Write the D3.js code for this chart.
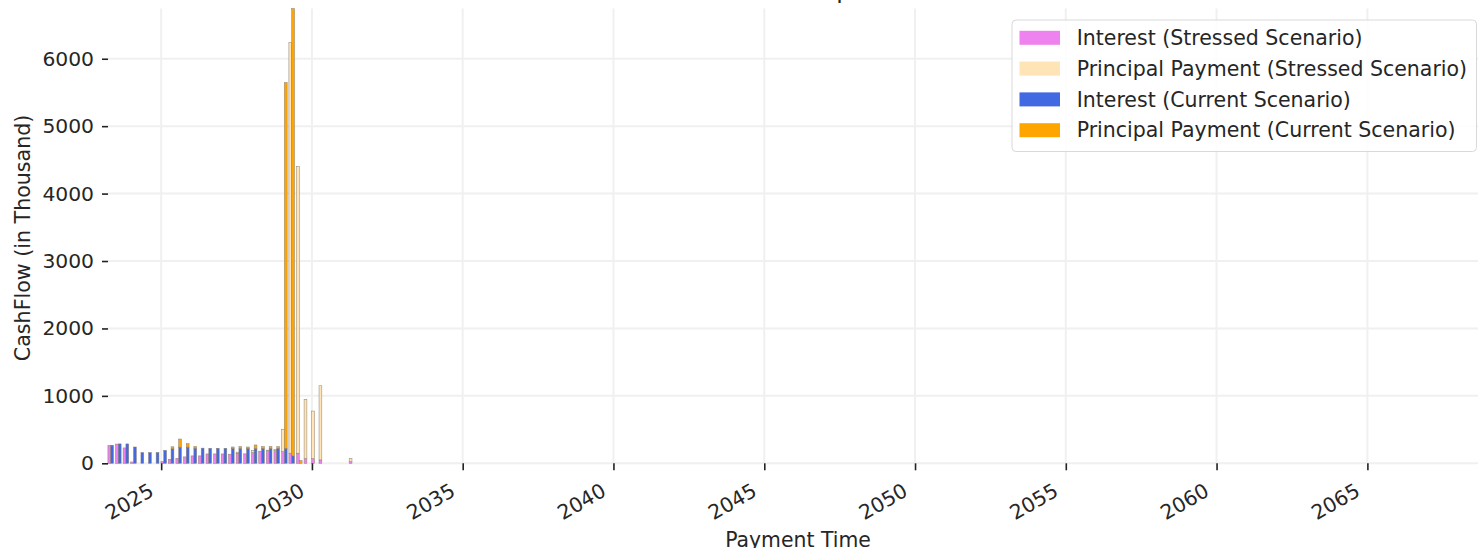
<!DOCTYPE html>
<html>
<head>
<meta charset="utf-8">
<script src="https://cdn.jsdelivr.net/npm/d3@7"></script>
<style>
  body { margin: 0; background: #fff; overflow: hidden; }
  text { font-family: "DejaVu Sans", sans-serif; fill: #262626; }
</style>
</head>
<body>
<div id="chart"></div>
<script>
// quarterly payment dates
const paymentDates = [
  "2023-05-01", "2023-08-01", "2023-11-01", "2024-02-01", "2024-05-01",
  "2024-08-01", "2024-11-01", "2025-02-01", "2025-05-01", "2025-08-01",
  "2025-11-01", "2026-02-01", "2026-05-01", "2026-08-01", "2026-11-01",
  "2027-02-01", "2027-05-01", "2027-08-01", "2027-11-01", "2028-02-01",
  "2028-05-01", "2028-08-01", "2028-11-01", "2029-02-01", "2029-05-01",
  "2029-08-01", "2029-11-01", "2030-02-01", "2030-05-01", "2030-08-01",
  "2030-11-01", "2031-02-01", "2031-05-01",
];

const interestStressed = [
  265, 285, 228, 20, 0, 0, 0, 25, 60, 75, 95, 110, 110, 139, 139, 139, 135,
  150, 140, 158, 175, 190, 188, 173, 150, 150, 70, 70, 50, 0, 0, 0, 25,
];
const principalStressed = [
  0, 0, 0, 0, 0, 0, 0, 0, 0, 0, 0, 0, 0, 0, 0, 0, 0,
  15, 0, 35, 5, 5, 20, 332, 6090, 4250, 880, 705, 1100, 0, 0, 0, 45,
];
const interestCurrent = [
  268, 288, 288, 242, 160, 160, 160, 192, 215, 240, 240, 225, 225, 223, 223,
  223, 222, 222, 222, 222, 222, 222, 223, 223, 110, 0, 0, 0, 0, 0, 0, 0, 0,
];
const principalCurrent = [
  0, 0, 0, 0, 0, 0, 0, 0, 30, 120, 50, 25, 0, 0, 0, 0, 20,
  25, 20, 50, 25, 25, 25, 5423, 6635, 40, 0, 0, 0, 0, 0, 0, 0,
];

const yTicks = [0, 1000, 2000, 3000, 4000, 5000, 6000];
const xTickYears = [2025, 2030, 2035, 2040, 2045, 2050, 2055, 2060, 2065];

const legendItems = [
  { label: "Interest (Stressed Scenario)", color: "violet" },
  { label: "Principal Payment (Stressed Scenario)", color: "moccasin" },
  { label: "Interest (Current Scenario)", color: "royalblue" },
  { label: "Principal Payment (Current Scenario)", color: "orange" },
];

function draw() {
  const parseDate = d3.timeParse("%Y-%m-%d");

  const rows = paymentDates.map((d, i) => ({
    date: parseDate(d),
    sInt: interestStressed[i],
    sPrin: principalStressed[i],
    cInt: interestCurrent[i],
    cPrin: principalCurrent[i],
  }));

  //Dimensions
  const dimensions = {
    width: 1478,
    height: 548,
    left: 108,
    right: 1481,
    top: 8.5,
    bottom: 463.3,
  };

  const svg = d3
    .select("#chart")
    .append("svg")
    .attr("width", dimensions.width)
    .attr("height", dimensions.height);

  const xScale = d3
    .scaleTime()
    .domain([new Date(2023, 2, 29), new Date(2068, 9, 8)])
    .range([dimensions.left, dimensions.right]);

  const yMax = d3.max(rows, (d) => Math.max(d.sInt + d.sPrin, d.cInt + d.cPrin));

  const yScale = d3
    .scaleLinear()
    .domain([0, yMax])
    .range([dimensions.bottom, dimensions.top]);

  // Grid
  const grid = svg.append("g").attr("stroke", "#f0f0f0").attr("stroke-width", 2);
  grid
    .selectAll("line.gx")
    .data(xTickYears)
    .join("line")
    .attr("x1", (d) => xScale(new Date(d, 0, 1)))
    .attr("x2", (d) => xScale(new Date(d, 0, 1)))
    .attr("y1", dimensions.top)
    .attr("y2", dimensions.bottom);
  grid
    .selectAll("line.gy")
    .data(yTicks)
    .join("line")
    .attr("x1", dimensions.left)
    .attr("x2", dimensions.right)
    .attr("y1", (d) => yScale(d))
    .attr("y2", (d) => yScale(d));

  // Bars: stressed sits left of the date, current right of it
  const barDays = 34;
  const shift = (date, days) => d3.timeDay.offset(date, days);

  const series = [
    { x0: (d) => shift(d.date, -barDays), x1: (d) => d.date, lo: () => 0, hi: (d) => d.sInt, color: "violet" },
    { x0: (d) => shift(d.date, -barDays), x1: (d) => d.date, lo: (d) => d.sInt, hi: (d) => d.sInt + d.sPrin, color: "moccasin" },
    { x0: (d) => d.date, x1: (d) => shift(d.date, barDays), lo: () => 0, hi: (d) => d.cInt, color: "royalblue" },
    { x0: (d) => d.date, x1: (d) => shift(d.date, barDays), lo: (d) => d.cInt, hi: (d) => d.cInt + d.cPrin, color: "orange" },
  ];

  series.forEach((s) => {
    svg
      .append("g")
      .selectAll("rect")
      .data(rows.filter((d) => s.hi(d) - s.lo(d) > 0))
      .join("rect")
      .attr("x", (d) => xScale(s.x0(d)))
      .attr("width", (d) => xScale(s.x1(d)) - xScale(s.x0(d)))
      .attr("y", (d) => yScale(s.hi(d)))
      .attr("height", (d) => yScale(s.lo(d)) - yScale(s.hi(d)))
      .attr("fill", s.color)
      .attr("stroke", "#8c8070")
      .attr("stroke-width", 0.5);
  });

  // Axes (no spines, just ticks)
  const yAxis = d3
    .axisLeft(yScale)
    .tickValues(yTicks)
    .tickFormat(d3.format("d"))
    .tickSize(6)
    .tickPadding(8);
  const yG = svg
    .append("g")
    .attr("transform", `translate(${dimensions.left}, 0)`)
    .call(yAxis);
  yG.select(".domain").remove();
  yG.selectAll(".tick line").attr("stroke", "#222").attr("stroke-width", 1.6);
  yG.selectAll(".tick text")
    .attr("font-size", 20.3)
    .attr("font-family", "DejaVu Sans")
    .attr("fill", "#222");

  const xAxis = d3
    .axisBottom(xScale)
    .tickValues(xTickYears.map((y) => new Date(y, 0, 1)))
    .tickFormat(d3.timeFormat("%Y"))
    .tickSize(7);
  const xG = svg
    .append("g")
    .attr("transform", `translate(0, ${dimensions.bottom})`)
    .call(xAxis);
  xG.select(".domain").remove();
  xG.selectAll(".tick line").attr("stroke", "#222").attr("stroke-width", 1.6);
  xG.selectAll(".tick text")
    .attr("font-size", 20.3)
    .attr("font-family", "DejaVu Sans")
    .attr("fill", "#222")
    .attr("text-anchor", "end")
    .attr("dy", null)
    .attr("y", null)
    .attr("transform", "translate(-6.5, 31.5) rotate(-30)");

  // Labels
  svg
    .append("text")
    .attr("x", (dimensions.left + dimensions.right) / 2 + 3.5)
    .attr("y", 546.5)
    .attr("text-anchor", "middle")
    .attr("font-size", 20.4)
    .text("Payment Time");

  svg
    .append("text")
    .attr("transform", `translate(30, ${(dimensions.top + dimensions.bottom) / 2 + 2}) rotate(-90)`)
    .attr("text-anchor", "middle")
    .attr("font-size", 20.6)
    .text("CashFlow (in Thousand)");

  // Title, mostly cut off at the top
  svg
    .append("text")
    .attr("x", (dimensions.left + dimensions.right) / 2 - 2)
    .attr("y", -2)
    .attr("text-anchor", "middle")
    .attr("font-size", 24)
    .text("CashFlow Comparison");

  // Legend
  const legend = svg.append("g").attr("transform", "translate(1012, 20)");
  legend
    .append("rect")
    .attr("width", 464.5)
    .attr("height", 131.5)
    .attr("rx", 4)
    .attr("fill", "#fff")
    .attr("fill-opacity", 0.85)
    .attr("stroke", "#d9d9d9");

  const items = legend
    .selectAll("g.item")
    .data(legendItems)
    .join("g")
    .attr("transform", (d, i) => `translate(0, ${17.8 + i * 30.8})`);
  items
    .append("rect")
    .attr("x", 7.5)
    .attr("y", -7)
    .attr("width", 40.5)
    .attr("height", 14)
    .attr("fill", (d) => d.color);
  items
    .append("text")
    .attr("x", 64.7)
    .attr("y", 7.2)
    .attr("font-size", 20.5)
    .text((d) => d.label);
}

draw();
</script>
</body>
</html>
